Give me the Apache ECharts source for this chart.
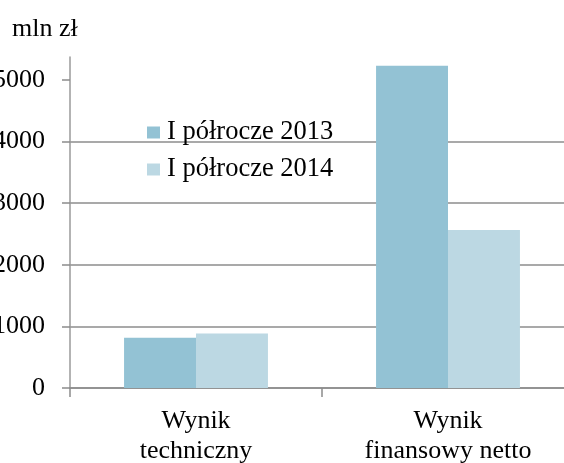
<!DOCTYPE html>
<html>
<head>
<meta charset="utf-8">
<script src="https://cdn.jsdelivr.net/npm/echarts@6/dist/echarts.min.js"></script>
<style>html,body{margin:0;padding:0;background:#fff}#c{width:564px;height:463px}</style>
</head>
<body>
<div id="c"></div>
<script>
const categories = ['Wynik\ntechniczny', 'Wynik\nfinansowy netto'];
const seriesNames = ['I półrocze 2013', 'I półrocze 2014'];
const values2013 = [817, 5227];
const values2014 = [885, 2565];
const yTicks = [0, 1000, 2000, 3000, 4000, 5000];
const unitLabel = 'mln zł';

const font = 'Liberation Serif, Times New Roman, serif';
const chart = echarts.init(document.getElementById('c'), null, {renderer: 'canvas'});
chart.setOption({
  animation: false,
  backgroundColor: '#fff',
  title: {
    text: unitLabel, left: 7, top: 11,
    textStyle: {fontFamily: font, fontSize: 26, fontWeight: 'normal', color: '#000'}
  },
  legend: {
    orient: 'vertical', left: 142, top: 114,
    itemWidth: 13, itemHeight: 12, itemGap: 10,
    icon: 'rect',
    textStyle: {fontFamily: font, fontSize: 26.5, color: '#000', padding: [0,0,0,2]},
    data: seriesNames
  },
  grid: {left: 70, right: -10, top: 57, bottom: 75, containLabel: false, outerBoundsMode: 'none'},
  xAxis: {
    type: 'category', data: categories,
    axisLine: {lineStyle: {color: '#8c8c8c', width: 1.5}},
    axisTick: {show: true, length: 9, lineStyle: {color: '#8c8c8c', width: 1.5}},
    axisLabel: {fontFamily: font, fontSize: 26, color: '#000', lineHeight: 30, margin: 18, interval: 0}
  },
  yAxis: {
    type: 'value', min: 0, max: 5370, interval: 1000,
    axisLine: {show: true, lineStyle: {color: '#9a9a9a', width: 1.5}},
    axisTick: {show: true, length: 8, lineStyle: {color: '#8c8c8c', width: 1.5}, customValues: yTicks},
    axisLabel: {fontFamily: font, fontSize: 26, color: '#000', margin: 25, customValues: yTicks,
      formatter: v => String(v)},
    splitLine: {show: true, showMaxLine: false, lineStyle: {color: '#8c8c8c', width: 1.5}}
  },
  series: [
    {name: seriesNames[0], type: 'bar', data: values2013, barGap: '0%', barCategoryGap: '42.9%',
     itemStyle: {color: '#93c2d4'}},
    {name: seriesNames[1], type: 'bar', data: values2014, barGap: '0%', barCategoryGap: '42.9%',
     itemStyle: {color: '#bcd8e3'}}
  ]
});
</script>
</body>
</html>
